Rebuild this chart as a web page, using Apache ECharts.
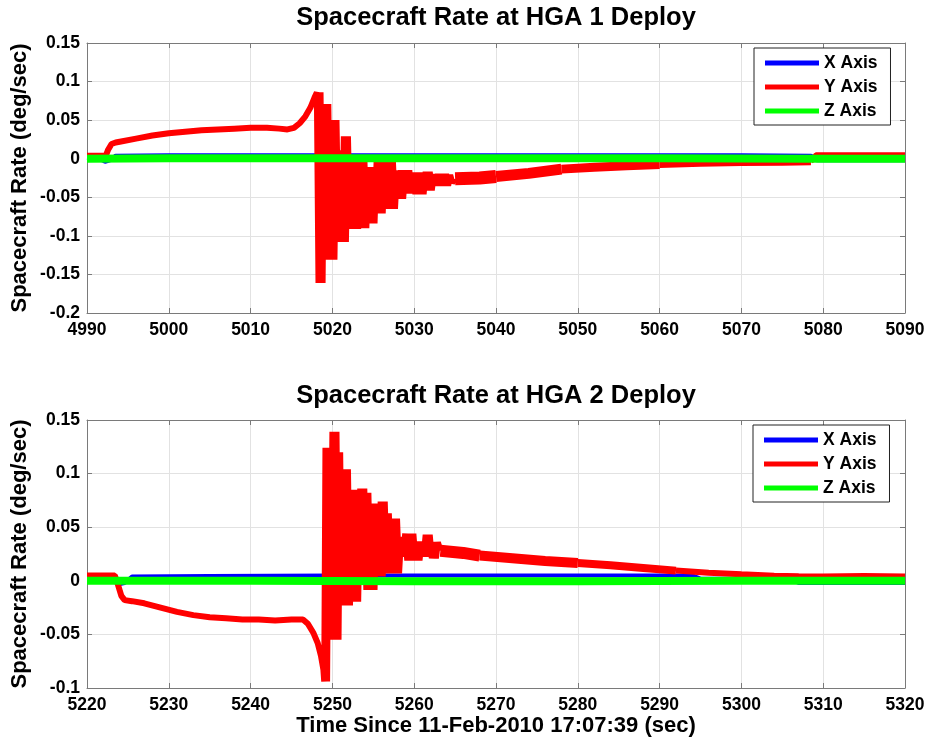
<!DOCTYPE html>
<html>
<head>
<meta charset="utf-8">
<script src="https://cdn.jsdelivr.net/npm/echarts@6/dist/echarts.min.js"></script>
<style>
  html, body { margin: 0; padding: 0; background: #fff; }
  #chart { width: 929px; height: 742px; }
</style>
</head>
<body>
<div id="chart"></div>
<script>
// ---------- HGA 1 deploy (time in s, rate in deg/sec) ----------
const hga1TimeRange = [4990, 5090];
const hga1RateRange = [-0.2, 0.15];

const x1Time = [4990, 4991.5, 4992.2, 4992.8, 4993.5, 5000, 5010, 5020, 5030, 5040, 5050, 5060, 5070, 5078.5, 5079.2, 5085, 5090];
const x1Rate = [0.001, 0.000, -0.004, -0.002, 0.004, 0.0045, 0.0045, 0.0045, 0.0045, 0.0045, 0.0045, 0.0045, 0.0045, 0.004, -0.002, -0.002, -0.002];

const z1Time = [4990, 5000, 5018, 5040, 5060, 5080, 5090];
const z1Rate = [0.0, 0.0005, 0.0005, 0.0005, 0.0005, 0.0, 0.0];

// Y axis: slow build-up before the boom release
const y1RiseTime = [4990, 4992.3, 4992.6, 4993.0, 4993.5, 4994, 4996, 4998, 5000, 5002, 5004, 5006, 5008, 5010, 5012, 5013.5, 5014.5, 5015.3, 5016, 5016.7, 5017.3, 5017.8];
const y1RiseRate = [0.004, 0.004, 0.012, 0.019, 0.021, 0.022, 0.026, 0.030, 0.033, 0.035, 0.037, 0.038, 0.039, 0.040, 0.040, 0.039, 0.038, 0.040, 0.046, 0.055, 0.066, 0.079];

// Y axis: oscillation right after release
const y1BurstTime = [
  5018.10, 5018.30, 5018.55, 5018.80, 5019.00, 5019.25, 5019.50, 5019.75,
  5020.00, 5020.25, 5020.50, 5020.75, 5020.95, 5021.15, 5021.40, 5021.65,
  5021.90, 5022.15, 5022.40, 5022.65, 5022.90, 5023.15, 5023.40, 5023.65,
  5023.90, 5024.15, 5024.40, 5024.65, 5024.90, 5025.15, 5025.40, 5025.65,
  5025.90, 5026.15, 5026.40, 5026.65, 5026.90, 5027.15, 5027.40, 5027.65,
  5027.90, 5028.15, 5028.40, 5028.65, 5028.90, 5029.15, 5029.40, 5029.65,
  5029.90, 5030.15, 5030.40, 5030.65, 5030.90, 5031.15, 5031.40, 5031.65,
  5031.90, 5032.15, 5032.40, 5032.65, 5032.90, 5033.15, 5033.40, 5033.65,
  5033.90, 5034.15, 5034.40, 5034.65, 5035.00
];
const y1BurstRate = [
  0.086, -0.161, 0.086, -0.161, 0.071, -0.131, 0.071, -0.131,
  0.050, -0.131, 0.050, -0.108, 0.011, -0.108, 0.029, -0.108,
  0.029, -0.091, 0.004, -0.091, 0.004, -0.091, 0.004, -0.090,
  0.004, -0.090, -0.011, -0.084, -0.011, -0.084, -0.004, -0.071,
  -0.004, -0.071, -0.004, -0.065, -0.004, -0.065, -0.004, -0.065,
  -0.015, -0.052, -0.015, -0.052, -0.015, -0.045, -0.015, -0.045,
  -0.018, -0.046, -0.018, -0.046, -0.018, -0.046, -0.017, -0.041,
  -0.017, -0.041, -0.020, -0.035, -0.020, -0.035, -0.020, -0.035,
  -0.020, -0.035, -0.021, -0.031, -0.026
];

// Y axis: slow decay back towards zero (band centre)
const y1DecayTime = [5035, 5038, 5040, 5044, 5048, 5052, 5056, 5060, 5065, 5070, 5075, 5078.5, 5079.1, 5085, 5090];
const y1DecayRate = [-0.026, -0.025, -0.023, -0.019, -0.0135, -0.011, -0.009, -0.0075, -0.006, -0.005, -0.0045, -0.004, 0.005, 0.005, 0.005];

// ---------- HGA 2 deploy ----------
const hga2TimeRange = [5220, 5320];
const hga2RateRange = [-0.1, 0.15];

const x2Time = [5220, 5223.5, 5224.0, 5224.6, 5225.5, 5235, 5250, 5265, 5280, 5294, 5295, 5306, 5307, 5320];
const x2Rate = [0.0, 0.0, -0.003, -0.002, 0.004, 0.0045, 0.005, 0.005, 0.005, 0.005, 0.002, 0.002, -0.002, -0.002];

const z2Time = [5220, 5240, 5260, 5280, 5300, 5320];
const z2Rate = [0.0, 0.0, -0.0005, -0.0005, 0.0, 0.0];

const y2RiseTime = [5220, 5223.4, 5223.8, 5224.2, 5224.6, 5225.5, 5227, 5229, 5231, 5233, 5235, 5237, 5239, 5241, 5243, 5245, 5246.4, 5247, 5247.7, 5248.2, 5248.6, 5248.9];
const y2RiseRate = [0.005, 0.005, -0.004, -0.014, -0.018, -0.019, -0.021, -0.025, -0.029, -0.032, -0.034, -0.035, -0.036, -0.036, -0.037, -0.036, -0.036, -0.040, -0.049, -0.058, -0.070, -0.083];

const y2BurstTime = [
  5249.00, 5249.15, 5249.35, 5249.55, 5249.75, 5250.00, 5250.25, 5250.50,
  5250.75, 5250.95, 5251.15, 5251.40, 5251.65, 5251.90, 5252.15, 5252.40,
  5252.65, 5252.90, 5253.15, 5253.40, 5253.65, 5253.90, 5254.15, 5254.40,
  5254.65, 5254.90, 5255.15, 5255.40, 5255.65, 5255.90, 5256.15, 5256.40,
  5256.65, 5256.90, 5257.15, 5257.40, 5257.65, 5257.90, 5258.15, 5258.40,
  5258.65, 5258.90, 5259.15, 5259.40, 5259.65, 5259.90, 5260.15, 5260.40,
  5260.65, 5260.90, 5261.15, 5261.40, 5261.65, 5261.90, 5262.15, 5262.40,
  5262.65, 5262.90, 5263.20
];
const y2BurstRate = [
  -0.094, 0.124, -0.094, 0.124, -0.055, 0.139, -0.055, 0.139,
  -0.055, 0.120, -0.023, 0.104, -0.023, 0.104, -0.023, 0.085,
  -0.0195, 0.085, -0.0195, 0.086, -0.002, 0.086, -0.0086, 0.082,
  -0.0086, 0.072, -0.0086, 0.072, 0.004, 0.074, 0.004, 0.074,
  0.007, 0.063, 0.007, 0.058, 0.007, 0.058, 0.007, 0.041,
  0.0225, 0.044, 0.019, 0.044, 0.019, 0.044, 0.019, 0.0365,
  0.019, 0.0365, 0.0225, 0.043, 0.0225, 0.043, 0.021, 0.036,
  0.021, 0.036, 0.028
];

const y2DecayTime = [5263.2, 5266, 5268, 5272, 5276, 5280, 5284, 5288, 5292, 5296, 5300, 5304, 5307, 5310, 5315, 5320];
const y2DecayRate = [0.028, 0.026, 0.0235, 0.021, 0.0185, 0.0165, 0.0145, 0.012, 0.0095, 0.0075, 0.006, 0.0047, 0.0042, 0.004, 0.0045, 0.004];

const seriesNames = ['X Axis', 'Y Axis', 'Z Axis'];
const seriesColors = ['#0000ff', '#ff0000', '#00ff00'];
const titles = ['Spacecraft Rate at HGA 1 Deploy', 'Spacecraft Rate at HGA 2 Deploy'];
const yName = 'Spacecraft Rate (deg/sec)';
const xName = 'Time Since 11-Feb-2010 17:07:39 (sec)';

// ---------- option building ----------
const FONT = "'Liberation Sans', Arial, Helvetica, sans-serif";
const AXIS_GRAY = '#7a7a7a';

function pairs(ts, vs) { return ts.map((t, i) => [t, vs[i]]); }
function slice(data, a, b) { return data.filter(p => p[0] >= a && p[0] <= b); }

const grids = [
  { left: 87, top: 43, width: 818, height: 270 },
  { left: 87, top: 420, width: 818, height: 268 }
];

function xAxisCfg(gi, range, position, labels) {
  return {
    type: 'value', gridIndex: gi, position: position,
    min: range[0], max: range[1], interval: 10,
    axisLine: { show: true, onZero: false, lineStyle: { color: AXIS_GRAY, width: 1 } },
    axisTick: { show: true, inside: true, length: 5, lineStyle: { color: AXIS_GRAY } },
    axisLabel: {
      show: labels, color: '#000', fontSize: 17.5, fontWeight: 'bold', fontFamily: FONT, margin: 8,
      formatter: v => String(v)
    },
    splitLine: { show: labels, lineStyle: { color: '#e2e2e2', width: 1 } }
  };
}
function yAxisCfg(gi, range, position, labels) {
  return {
    type: 'value', gridIndex: gi, position: position,
    min: range[0], max: range[1], interval: 0.05,
    axisLine: { show: true, onZero: false, lineStyle: { color: AXIS_GRAY, width: 1 } },
    axisTick: { show: true, inside: true, length: 5, lineStyle: { color: AXIS_GRAY } },
    axisLabel: {
      show: labels, color: '#000', fontSize: 17.5, fontWeight: 'bold', fontFamily: FONT, margin: 7,
      formatter: v => String(parseFloat(v.toFixed(2)))
    },
    splitLine: { show: labels, lineStyle: { color: '#e2e2e2', width: 1 } }
  };
}

function lineSeries(name, color, width, data, axisIdx) {
  return {
    type: 'line', name: name, data: data,
    xAxisIndex: axisIdx, yAxisIndex: axisIdx,
    showSymbol: false, symbol: 'none', animation: false,
    lineStyle: { color: color, width: width, join: 'bevel' },
    itemStyle: { color: color },
    emphasis: { disabled: true }
  };
}

// Y-axis traces: thin raw trace up to the end of the burst, then the
// decaying band drawn as a thick trace whose width follows the band.
const y1Main = pairs(y1RiseTime, y1RiseRate).concat(pairs(y1BurstTime, y1BurstRate));
const y1Decay = pairs(y1DecayTime, y1DecayRate);
const y2Main = pairs(y2RiseTime, y2RiseRate).concat(pairs(y2BurstTime, y2BurstRate));
const y2Decay = pairs(y2DecayTime, y2DecayRate);

const red = (w, d, ax) => lineSeries(seriesNames[1], seriesColors[1], w, d, ax);

const series = [
  lineSeries(seriesNames[0], seriesColors[0], 4, pairs(x1Time, x1Rate), 0),
  red(6, y1Main, 0),
  red(13, slice(y1Decay, 5035, 5040), 0),
  red(11, slice(y1Decay, 5040, 5048), 0),
  red(9, slice(y1Decay, 5048, 5060), 0),
  red(7, slice(y1Decay, 5060, 5078.5), 0),
  red(5, slice(y1Decay, 5078.5, 5090), 0),
  lineSeries(seriesNames[2], seriesColors[2], 8, pairs(z1Time, z1Rate), 0),

  lineSeries(seriesNames[0], seriesColors[0], 4, pairs(x2Time, x2Rate), 2),
  red(6, y2Main, 2),
  red(12, slice(y2Decay, 5263.2, 5268), 2),
  red(10, slice(y2Decay, 5268, 5280), 2),
  red(8, slice(y2Decay, 5280, 5292), 2),
  red(6, slice(y2Decay, 5292, 5320), 2),
  lineSeries(seriesNames[2], seriesColors[2], 8, pairs(z2Time, z2Rate), 2)
];

function legendCfg(left, top) {
  return {
    data: seriesNames, orient: 'vertical', left: left, top: top,
    icon: 'rect', itemWidth: 54, itemHeight: 5, itemGap: 6,
    padding: [6, 13, 5, 11],
    backgroundColor: '#fff', borderColor: '#222', borderWidth: 1,
    selectedMode: false,
    textStyle: { color: '#000', fontSize: 17.5, fontWeight: 'bold', fontFamily: FONT }
  };
}

function textEl(text, x, y, size, rotation) {
  return {
    type: 'text', x: x, y: y, rotation: rotation || 0, silent: true,
    style: {
      text: text, fill: '#000', font: 'bold ' + size + 'px ' + FONT,
      align: 'center', verticalAlign: 'middle'
    }
  };
}

const option = {
  backgroundColor: '#fff',
  animation: false,
  grid: grids,
  xAxis: [
    xAxisCfg(0, hga1TimeRange, 'bottom', true),
    xAxisCfg(0, hga1TimeRange, 'top', false),
    xAxisCfg(1, hga2TimeRange, 'bottom', true),
    xAxisCfg(1, hga2TimeRange, 'top', false)
  ],
  yAxis: [
    yAxisCfg(0, hga1RateRange, 'left', true),
    yAxisCfg(0, hga1RateRange, 'right', false),
    yAxisCfg(1, hga2RateRange, 'left', true),
    yAxisCfg(1, hga2RateRange, 'right', false)
  ],
  legend: [legendCfg(754, 48), legendCfg(753, 425)],
  series: series,
  graphic: [
    textEl(titles[0], 496, 18, 25.5),
    textEl(titles[1], 496, 396, 25.5),
    textEl(yName, 20, 178, 22, Math.PI / 2),
    textEl(yName, 20, 554, 22, Math.PI / 2),
    textEl(xName, 496, 726, 22)
  ]
};

const chart = echarts.init(document.getElementById('chart'), null, { renderer: 'canvas' });
chart.setOption(option);
</script>
</body>
</html>
